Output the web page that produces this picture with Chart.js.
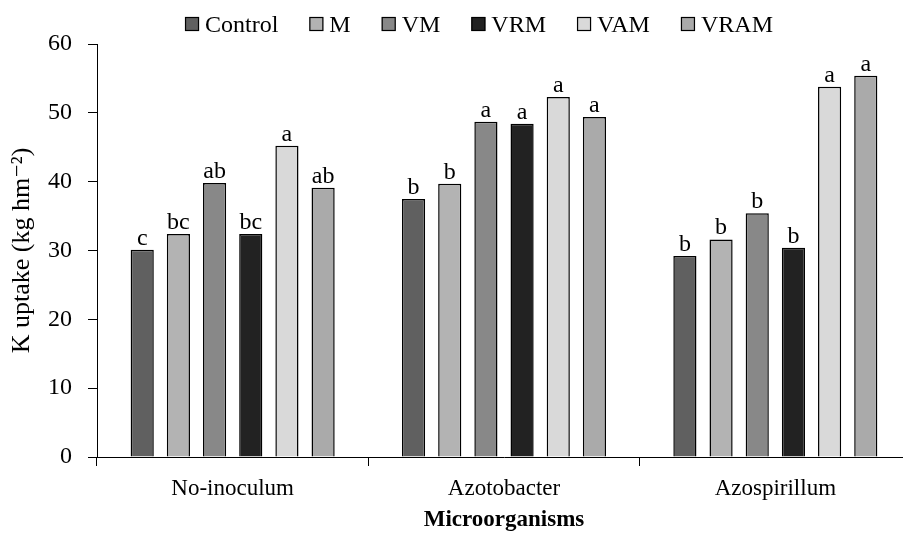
<!DOCTYPE html>
<html>
<head>
<meta charset="utf-8">
<script src="https://cdn.jsdelivr.net/npm/chart.js@4/dist/chart.umd.min.js"></script>
<style>
  html, body { margin: 0; padding: 0; background: #fff; overflow: hidden; }
  #wrap { width: 912px; height: 535px; }
</style>
</head>
<body>
<div id="wrap"><canvas id="chart" width="912" height="535"></canvas></div>
<script>
const groups = ['No-inoculum', 'Azotobacter', 'Azospirillum'];
const treatments = ['Control', 'M', 'VM', 'VRM', 'VAM', 'VRAM'];
const colors = ['#606060', '#b3b3b3', '#888888', '#222222', '#d9d9d9', '#aaaaaa'];

// K uptake per treatment, one value per group
const control = [30.1, 37.5, 29.2];
const m = [32.4, 39.7, 31.6];
const vm = [39.8, 48.7, 35.4];
const vrm = [32.4, 48.4, 30.4];
const vam = [45.2, 52.3, 53.8];
const vram = [39.1, 49.4, 55.4];

// significance letters, same order
const lettersControl = ['c', 'b', 'b'];
const lettersM = ['bc', 'b', 'b'];
const lettersVM = ['ab', 'a', 'b'];
const lettersVRM = ['bc', 'a', 'b'];
const lettersVAM = ['a', 'a', 'a'];
const lettersVRAM = ['ab', 'a', 'a'];

const yTicks = [0, 10, 20, 30, 40, 50, 60];

const values = [control, m, vm, vrm, vam, vram];
const letters = [lettersControl, lettersM, lettersVM, lettersVRM, lettersVAM, lettersVRAM];
const serif = "'Liberation Serif', 'DejaVu Serif', serif";

// letters above each bar
const letterPlugin = {
  id: 'letters',
  afterDatasetsDraw(chart) {
    const ctx = chart.ctx;
    ctx.save();
    ctx.font = '24px ' + serif;
    ctx.fillStyle = '#000';
    ctx.textAlign = 'center';
    ctx.textBaseline = 'alphabetic';
    chart.data.datasets.forEach((ds, i) => {
      chart.getDatasetMeta(i).data.forEach((bar, j) => {
        ctx.fillText(ds.letters[j], bar.x, bar.y - 5);
      });
    });
    ctx.restore();
  }
};

// legend drawn in one row near the top
const legendPlugin = {
  id: 'rowLegend',
  afterDraw(chart) {
    const ctx = chart.ctx;
    const box = 14, gapText = 6, gapItem = 31, centre = 479;
    ctx.save();
    ctx.font = '24px ' + serif;
    const items = chart.data.datasets.map(ds => ({
      label: ds.label, color: ds.backgroundColor, w: ctx.measureText(ds.label).width
    }));
    const total = items.reduce((s, it) => s + box + gapText + it.w, 0) + gapItem * (items.length - 1);
    let x = centre - total / 2;
    items.forEach(it => {
      ctx.fillStyle = it.color;
      ctx.fillRect(x, 17, box, box);
      ctx.strokeStyle = '#000';
      ctx.lineWidth = 1.2;
      ctx.strokeRect(x + 0.5, 17.5, box - 1, box - 1);
      ctx.fillStyle = '#000';
      ctx.textBaseline = 'alphabetic';
      ctx.fillText(it.label, x + box + gapText, 32);
      x += box + gapText + it.w + gapItem;
    });
    ctx.restore();
  }
};

new Chart(document.getElementById('chart'), {
  type: 'bar',
  data: {
    labels: groups,
    datasets: treatments.map((t, i) => ({
      label: t,
      data: values[i],
      letters: letters[i],
      backgroundColor: colors[i],
      borderColor: '#000',
      borderWidth: 1.5,
      barPercentage: 0.64,
      categoryPercentage: 0.8
    }))
  },
  options: {
    responsive: false,
    animation: false,
    layout: { padding: { top: 44, right: 1, left: 0, bottom: 0 } },
    plugins: {
      legend: { display: false },
      tooltip: { enabled: false }
    },
    scales: {
      x: {
        afterFit(scale) { scale.height = 78; },
        border: { color: '#000', width: 1 },
        grid: { display: true, drawOnChartArea: false, drawTicks: true, tickLength: 9, color: '#000', offset: true },
        ticks: { color: '#000', font: { family: serif, size: 23 }, padding: 9 },
        title: {
          display: true, text: 'Microorganisms', color: '#000',
          font: { family: serif, size: 23, weight: 'bold' }, padding: { top: 0, bottom: 1 }
        }
      },
      y: {
        min: 0,
        max: 60,
        afterFit(scale) { scale.width = 97; },
        afterBuildTicks(scale) { scale.ticks = yTicks.map(v => ({ value: v })); },
        border: { color: '#000', width: 1 },
        grid: { display: true, drawOnChartArea: false, drawTicks: true, tickLength: 9, color: '#000' },
        ticks: { color: '#000', font: { family: serif, size: 24 }, padding: 16 },
        title: {
          display: true, text: 'K uptake (kg hm\u207B\u00B2)', color: '#000',
          font: { family: serif, size: 26 }, padding: { top: 7, bottom: 0 }
        }
      }
    }
  },
  plugins: [letterPlugin, legendPlugin]
});
</script>
</body>
</html>
